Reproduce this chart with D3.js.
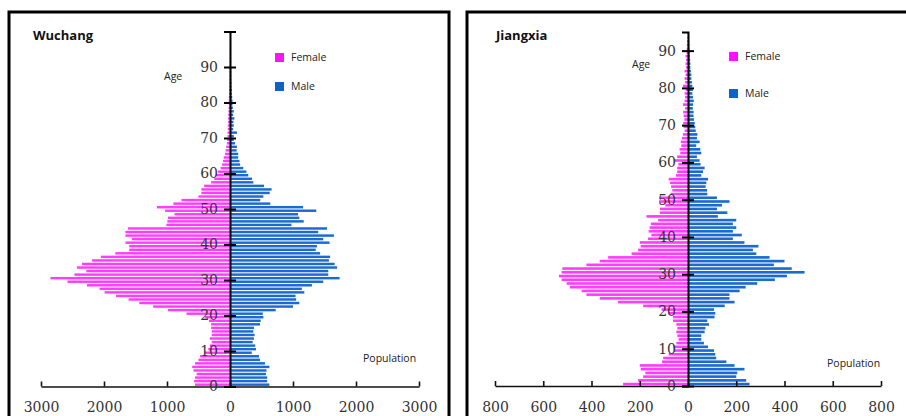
<!DOCTYPE html>
<html>
<head>
<meta charset="utf-8">
<script src="https://cdn.jsdelivr.net/npm/d3@7"></script>
<style>
  body { margin: 0; background: #fff; }
  svg { display: block; }
  .title { font-family: "Open Sans", sans-serif; font-weight: bold; font-size: 13px; fill: #111; }
  .note { font-family: "Open Sans", sans-serif; font-size: 10.5px; fill: #222; }
  .tickText { font-family: "DejaVu Serif", serif; font-size: 14px; fill: #333; }
</style>
</head>
<body>
<div id="chart"></div>
<script>
// population by single year of age (index = age)
const wuchangFemale = [
  555, 570, 555, 530, 580, 600, 555, 500, 475, 400,
  345, 320, 290, 320, 290, 290, 300, 300, 333, 400,
  690, 985, 1220, 1440, 1610, 1810, 1990, 2070, 2270, 2580,
  2850, 2470, 2280, 2430, 2350, 2190, 2050, 1820, 1600, 1600,
  1660, 1560, 1660, 1660, 1620, 1010, 995, 985, 880, 1030,
  1160, 900, 770, 500, 455, 455, 410, 300, 250, 220,
  190, 150, 125, 110, 100, 80, 70, 60, 50, 45,
  40, 40, 35, 35, 30, 30, 28, 25, 22, 20,
  20, 18, 15, 14, 12, 10, 10, 8, 8, 7,
  6, 6, 5, 5, 4, 4, 3, 3, 2, 2
];
const wuchangMale = [
  625, 590, 590, 570, 580, 625, 555, 476, 460, 345,
  412, 400, 360, 380, 390, 370, 380, 476, 487, 530,
  520, 725, 1000, 1100, 1050, 1040, 1180, 1140, 1300, 1480,
  1740, 1560, 1560, 1700, 1660, 1570, 1590, 1430, 1360, 1380,
  1580, 1480, 1650, 1400, 1540, 975, 1170, 1100, 1080, 1370,
  1160, 640, 480, 530, 630, 660, 540, 370, 350, 290,
  260, 210, 160, 150, 130, 130, 105, 110, 80, 60,
  60, 110, 50, 60, 55, 70, 50, 60, 45, 40,
  40, 35, 30, 30, 25, 25, 20, 20, 20, 18,
  15, 15, 12, 12, 10, 10, 8, 8, 6, 6
];
const jiangxiaFemale = [
  269, 207, 186, 177, 196, 200, 108, 103, 80, 58,
  61, 48, 39, 44, 48, 44, 48, 62, 62, 83,
  110, 186, 290, 366, 421, 441, 490, 503, 524, 535,
  524, 521, 421, 366, 331, 234, 207, 196, 200, 166,
  152, 163, 159, 154, 124, 172, 117, 116, 94, 120,
  120, 72, 65, 70, 75, 80, 50, 45, 45, 40,
  55, 45, 32, 35, 28, 30, 25, 21, 14, 18,
  20, 15, 18, 20, 12, 21, 14, 12, 14, 10,
  21, 12, 14, 10, 14, 8, 10, 8, 10, 6,
  5, 5, 4, 3, 2
];
const jiangxiaMale = [
  255, 241, 200, 204, 234, 193, 159, 117, 113, 108,
  83, 66, 55, 55, 69, 72, 87, 80, 110, 113,
  108, 152, 193, 172, 172, 214, 239, 287, 360, 410,
  483, 430, 356, 400, 338, 283, 269, 292, 234, 186,
  223, 186, 200, 186, 200, 124, 163, 120, 141, 172,
  120, 80, 79, 73, 76, 83, 55, 62, 69, 52,
  48, 37, 55, 51, 34, 48, 37, 39, 32, 30,
  28, 25, 23, 23, 20, 21, 24, 21, 18, 20,
  18, 16, 14, 14, 12, 10, 10, 9, 8, 7,
  6, 6, 5, 5, 4
];
const wuchangAgeTicks = [0, 10, 20, 30, 40, 50, 60, 70, 80, 90, 100];
const jiangxiaAgeTicks = [0, 10, 20, 30, 40, 50, 60, 70, 80, 90];
const wuchangPopTicks = [-3000, -2000, -1000, 0, 1000, 2000, 3000];
const jiangxiaPopTicks = [-800, -600, -400, -200, 0, 200, 400, 600, 800];
const legendLabels = ["Female", "Male"];

const width = 906, height = 416;
const femaleColor = "#ff3cff", maleColor = "#1c69cf";
const legendColors = ["#ff10ff", "#0a63c9"];

const svg = d3.select("#chart").append("svg")
  .attr("width", width)
  .attr("height", height);

function drawPanel(p) {
  let g = svg.append("g");

  // frame
  g.append("rect")
    .attr("x", p.box[0]).attr("y", p.box[1])
    .attr("width", p.box[2]).attr("height", p.box[3])
    .attr("fill", "none").attr("stroke", "#000").attr("stroke-width", 3);

  g.append("text").attr("class", "title")
    .attr("x", p.titleX).attr("y", 40).text(p.title);

  let x = d3.scaleLinear().domain(p.xDomain).range(p.xRange);
  let y = d3.scaleLinear().domain(p.yDomain).range(p.yRange);
  let barH = y(0) - y(1);

  g.append("g").selectAll("rect")
    .data(p.female)
    .enter().append("rect")
    .attr("x", d => x(-d))
    .attr("y", (d, i) => y(i + 1) + 0.5)
    .attr("width", d => x(0) - x(-d))
    .attr("height", barH - 1.1)
    .attr("fill", femaleColor);

  g.append("g").selectAll("rect")
    .data(p.male)
    .enter().append("rect")
    .attr("x", x(0))
    .attr("y", (d, i) => y(i + 1) + 0.5)
    .attr("width", d => x(d) - x(0))
    .attr("height", barH - 1.1)
    .attr("fill", maleColor);

  // population axis, ticks pointing up
  let xAxis = g.append("g")
    .attr("transform", `translate(0, ${y(0)})`)
    .call(d3.axisBottom(x).tickValues(p.popTicks)
      .tickFormat(d => Math.abs(d)).tickSizeInner(-5).tickSizeOuter(0).tickPadding(16));
  xAxis.selectAll("path, line").attr("stroke", "#111").attr("stroke-width", 1.6);
  xAxis.selectAll("text").attr("class", "tickText").attr("font-family", null).attr("font-size", null).attr("fill", null);

  // age axis through the middle
  let yAxis = g.append("g")
    .attr("transform", `translate(${x(0)}, 0)`)
    .call(d3.axisLeft(y).tickValues(p.ageTicks)
      .tickFormat(d => d >= 100 ? "" : d).tickSizeOuter(0).tickSize(6).tickPadding(6));
  yAxis.select("path").attr("stroke", "#000").attr("stroke-width", 2);
  yAxis.selectAll("line").attr("x1", -6).attr("x2", 6).attr("stroke", "#000").attr("stroke-width", 2);
  yAxis.selectAll("text").attr("class", "tickText").attr("font-family", null).attr("font-size", null).attr("fill", null)
    .attr("x", -12);

  g.append("text").attr("class", "note").attr("x", p.ageLabel[0]).attr("y", p.ageLabel[1]).text("Age");
  g.append("text").attr("class", "note").attr("x", p.popLabel[0]).attr("y", p.popLabel[1]).text("Population");

  let legend = g.selectAll(".legend")
    .data(legendLabels)
    .enter().append("g")
    .attr("transform", (d, i) => `translate(${p.legend[0]}, ${p.legend[1] + i * p.legend[2]})`);
  legend.append("rect")
    .attr("x", 0).attr("y", -8).attr("width", 9).attr("height", 9)
    .attr("fill", (d, i) => legendColors[i]);
  legend.append("text").attr("class", "note")
    .attr("x", 16).attr("y", 0).text(d => d);
}

drawPanel({
  title: "Wuchang", titleX: 33, box: [9, 12, 440, 460],
  female: wuchangFemale, male: wuchangMale,
  xDomain: [-3000, 3000], xRange: [41, 419],
  yDomain: [0, 100], yRange: [386.5, 31.5],
  ageTicks: wuchangAgeTicks, popTicks: wuchangPopTicks,
  ageLabel: [164, 80], popLabel: [363, 362], legend: [275, 61, 29]
});

drawPanel({
  title: "Jiangxia", titleX: 496, box: [467, 12, 470, 460],
  female: jiangxiaFemale, male: jiangxiaMale,
  xDomain: [-800, 800], xRange: [495, 881],
  yDomain: [0, 95], yRange: [386, 32],
  ageTicks: jiangxiaAgeTicks, popTicks: jiangxiaPopTicks,
  ageLabel: [632, 68], popLabel: [827, 367], legend: [729, 60, 37]
});
</script>
</body>
</html>
